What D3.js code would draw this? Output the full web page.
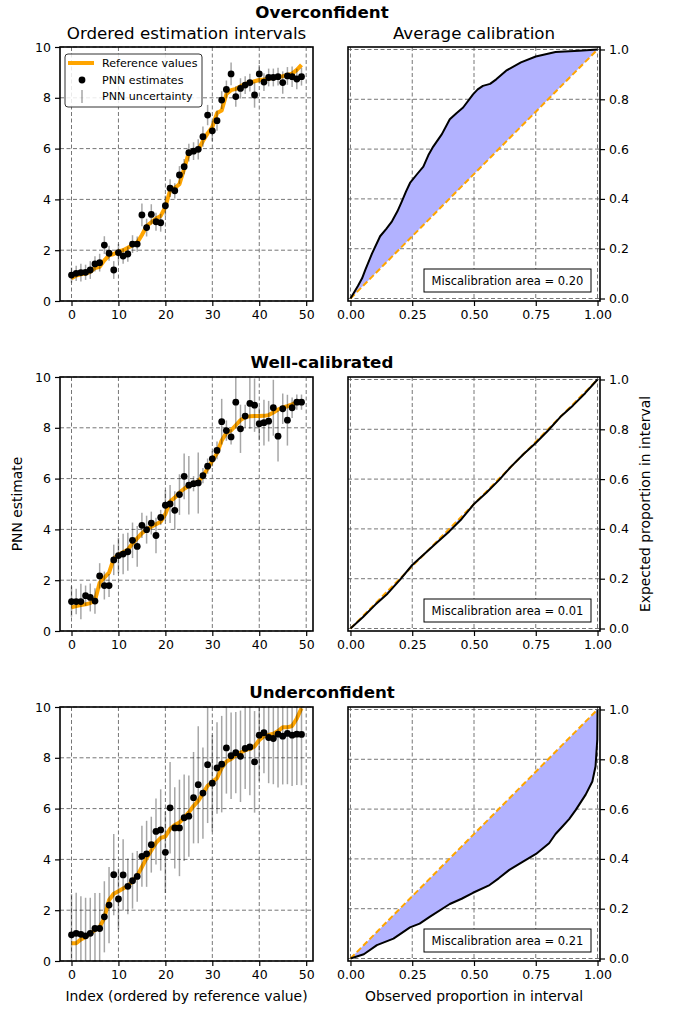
<!DOCTYPE html>
<html>
<head>
<meta charset="utf-8">
<script src="https://cdn.jsdelivr.net/npm/d3@7"></script>
<style>
body { margin: 0; background: #fff; }
svg text { font-family: "DejaVu Sans", sans-serif; fill: #000; }
</style>
</head>
<body>
<svg id="fig" width="676" height="1011"></svg>
<script>
// ---- data -----------------------------------------------------------------
var rowTitles = ['Overconfident', 'Well-calibrated', 'Underconfident'];
var areaLabels = ['0.20', '0.01', '0.21'];

var refOver = [0.9,1.0,1.05,1.08,1.15,1.3,1.35,1.6,1.8,1.85,1.95,2.0,2.1,2.2,2.3,2.6,2.95,3.1,3.25,3.35,
  3.7,4.35,4.45,4.6,5.2,5.85,5.9,5.95,6.3,6.6,6.85,7.4,7.5,8.15,8.3,8.35,8.45,8.55,8.6,8.65,
  8.7,8.72,8.75,8.8,8.82,8.85,8.9,8.95,9.1,9.3];
var estOver = [1.02,1.09,1.12,1.13,1.22,1.46,1.51,2.2,1.88,1.22,1.9,1.77,1.85,2.24,2.24,3.39,2.89,3.41,3.12,3.08,
  3.75,4.44,4.34,4.96,5.29,5.84,5.9,5.97,6.47,7.32,6.7,7.1,7.91,8.33,8.94,8.05,8.37,8.5,8.6,8.11,
  8.94,8.62,8.8,8.8,8.83,8.6,8.86,8.83,8.74,8.83];
var uncOver = [0.3,0.3,0.35,0.3,0.35,0.3,0.35,0.35,0.3,0.35,0.35,0.3,0.3,0.35,0.3,0.45,0.35,0.4,0.35,0.35,
  0.4,0.35,0.3,0.35,0.3,0.35,0.35,0.4,0.4,0.4,0.4,0.4,0.35,0.35,0.45,0.4,0.4,0.35,0.35,0.5,
  0.35,0.35,0.35,0.35,0.35,0.44,0.35,0.4,0.4,0.35];

var refWell = [0.93,0.98,1.02,1.05,1.1,1.2,1.9,2.1,2.3,2.85,3.0,3.1,3.2,3.45,3.65,3.85,4.0,4.1,4.2,4.3,
  4.6,5.1,5.25,5.45,5.6,5.72,5.8,5.88,6.1,6.4,6.7,7.0,7.5,7.8,7.9,8.1,8.3,8.42,8.45,8.46,
  8.46,8.47,8.5,8.6,8.72,8.8,8.85,8.92,9.0,9.05];
var estWell = [1.16,1.16,1.16,1.39,1.32,1.18,2.17,1.79,1.79,2.8,2.97,3.03,3.12,3.57,3.33,4.16,3.99,4.25,3.76,4.47,
  4.95,5.0,4.75,5.37,6.09,5.74,5.8,5.83,6.12,6.49,6.78,7.11,8.24,7.89,7.64,9.01,7.96,8.46,8.96,8.89,
  8.16,8.2,8.26,8.79,7.67,8.75,8.3,8.79,9.01,9.01];
var uncWell = [0.6,0.5,0.7,0.4,0.55,0.5,0.5,0.55,0.45,0.6,0.7,0.8,0.75,0.7,0.8,0.5,0.55,0.45,0.7,0.3,
  0.6,0.75,0.75,0.8,0.9,1.15,0.3,1.2,0.3,0.3,0.3,0.35,0.9,0.4,0.3,1.05,0.95,0.45,1.0,1.05,
  0.65,0.9,0.8,1.1,1.0,0.6,1.0,0.4,0.3,0.3];

var refUnder = [0.7,0.7,0.85,0.95,1.1,1.22,1.33,1.7,2.4,2.65,2.75,2.85,2.95,3.15,3.35,3.7,4.05,4.35,4.65,4.85,
  4.9,5.2,5.35,5.45,5.65,5.85,6.1,6.3,6.6,6.9,7.05,7.2,7.6,7.85,7.95,8.1,8.2,8.3,8.35,8.45,
  8.7,8.85,8.9,8.95,9.05,9.2,9.2,9.25,9.55,9.95];
var estUnder = [1.03,1.09,1.05,0.99,1.09,1.28,1.28,1.74,2.2,3.4,2.44,3.39,2.94,3.16,3.33,4.12,4.22,4.58,5.1,5.16,
  4.28,6.03,5.24,5.24,5.64,5.7,6.43,6.94,6.61,7.73,7.0,7.6,7.75,8.39,8.08,8.2,8.06,8.37,8.43,7.84,
  8.89,8.99,8.8,8.76,8.93,8.85,8.96,8.89,8.93,8.92];
var uncUnder = [1.6,1.6,1.5,1.5,1.4,1.4,1.4,1.4,1.5,1.6,1.2,1.4,1.1,1.1,1.0,1.2,1.3,1.1,1.3,1.6,
  1.6,1.8,1.6,1.9,1.7,1.6,1.8,2.3,1.8,2.3,1.9,1.8,1.9,1.8,1.7,1.6,1.8,1.6,1.9,2.0,
  1.8,1.6,1.8,1.8,2.1,1.9,2.0,2.0,2.0,2.0];

// calibration curves: observed proportion (x) vs expected proportion (y)
var obsOver = [0,0.03,0.047,0.06,0.087,0.12,0.145,0.168,0.19,0.208,0.225,0.241,0.27,0.295,0.315,0.335,0.37,0.402,0.43,0.456,
  0.496,0.515,0.536,0.565,0.59,0.63,0.69,0.75,0.83,0.925,1];
var expOver = [0,0.05,0.081,0.115,0.18,0.25,0.28,0.31,0.35,0.39,0.43,0.464,0.5,0.53,0.575,0.61,0.66,0.72,0.745,0.767,
  0.82,0.84,0.854,0.862,0.88,0.915,0.948,0.972,0.99,0.995,1];
var obsWell = [0,0.05,0.1,0.15,0.2,0.25,0.3,0.35,0.4,0.45,0.5,0.55,0.6,0.65,0.7,0.75,0.8,0.85,0.9,0.95,1];
var expWell = [0,0.045,0.095,0.14,0.195,0.255,0.3,0.345,0.39,0.44,0.5,0.545,0.595,0.65,0.7,0.745,0.795,0.85,0.895,0.945,1];
var obsUnder = [0,0.054,0.107,0.174,0.241,0.28,0.322,0.402,0.45,0.496,0.563,0.6,0.643,0.7,0.751,0.804,0.83,0.858,0.885,0.912,
  0.952,0.979,0.992,0.999,1];
var expUnder = [0,0.017,0.054,0.08,0.125,0.14,0.168,0.219,0.24,0.264,0.295,0.322,0.356,0.39,0.42,0.463,0.5,0.53,0.56,0.597,
  0.658,0.711,0.772,0.879,1];

var idxTicks = [0, 10, 20, 30, 40, 50];
var estTicks = [0, 2, 4, 6, 8, 10];
var obsTicks = [0, 0.25, 0.5, 0.75, 1];
var expTicks = [0, 0.2, 0.4, 0.6, 0.8, 1];

var rows = [
  { ref: refOver, est: estOver, unc: uncOver, obs: obsOver, exp: expOver },
  { ref: refWell, est: estWell, unc: uncWell, obs: obsWell, exp: expWell },
  { ref: refUnder, est: estUnder, unc: uncUnder, obs: obsUnder, exp: expUnder }
];

// ---- layout ---------------------------------------------------------------
var rowTops = [47, 377, 707];
var titleY = [18, 368, 698];
var H = 254;
var L = { x0: 60, x1: 313 };
var R = { x0: 348, x1: 600 };
var ORANGE = '#ffa500';
var GRID = '#666';

var svg = d3.select('#fig');

var xIdx = d3.scaleLinear().domain([-2.45, 51.45]).range([L.x0, L.x1]);
var xObs = d3.scaleLinear().domain([-0.01, 1.01]).range([R.x0, R.x1]);

function grid (g, xs, ys, x, y, xr, yr) {
    g.selectAll('line.gx').data(xs).enter().append('line')
        .attr('x1', x).attr('x2', x).attr('y1', yr[0]).attr('y2', yr[1])
        .attr('stroke', GRID).attr('stroke-width', 0.9).attr('stroke-dasharray', '4,2.5');
    g.selectAll('line.gy').data(ys).enter().append('line')
        .attr('y1', y).attr('y2', y).attr('x1', xr[0]).attr('x2', xr[1])
        .attr('stroke', GRID).attr('stroke-width', 0.9).attr('stroke-dasharray', '4,2.5');
}

function frame (g, x0, x1, y0, y1) {
    g.append('rect').attr('x', x0).attr('y', y0).attr('width', x1 - x0).attr('height', y1 - y0)
        .attr('fill', 'none').attr('stroke', '#000').attr('stroke-width', 1.6);
}

function styleAxis (a) {
    a.select('.domain').remove();
    a.selectAll('.tick line').attr('stroke', '#000').attr('stroke-width', 1.2);
    a.selectAll('.tick text').style('font-size', '12.5px').style('font-family', '"DejaVu Sans", sans-serif');
}

rows.forEach(function (d, r) {
    var top = rowTops[r];
    var bot = top + H;
    var yEst = d3.scaleLinear().domain([0, 10]).range([bot, top]);
    var yExp = d3.scaleLinear().domain([-0.01, 1.01]).range([bot, top]);
    var idx = d3.range(d.est.length);

    // row title
    svg.append('text').attr('x', 322).attr('y', titleY[r])
        .attr('text-anchor', 'middle').style('font-size', '16.7px').style('font-weight', 'bold')
        .text(rowTitles[r]);

    // ---- left: ordered estimation intervals
    var gl = svg.append('g');
    gl.append('clipPath').attr('id', 'clipL' + r).append('rect')
        .attr('x', L.x0).attr('y', top).attr('width', L.x1 - L.x0).attr('height', H);
    grid(gl, idxTicks, estTicks, xIdx, yEst, [L.x0, L.x1], [top, bot]);

    var body = gl.append('g').attr('clip-path', 'url(#clipL' + r + ')');
    body.append('path').datum(idx)
        .attr('d', d3.line().x(function (i) { return xIdx(i); }).y(function (i) { return yEst(d.ref[i]); }))
        .attr('fill', 'none').attr('stroke', ORANGE).attr('stroke-width', 4).attr('stroke-linejoin', 'round');
    body.selectAll('line.err').data(idx).enter().append('line')
        .attr('x1', function (i) { return xIdx(i); }).attr('x2', function (i) { return xIdx(i); })
        .attr('y1', function (i) { return yEst(d.est[i] - d.unc[i]); })
        .attr('y2', function (i) { return yEst(d.est[i] + d.unc[i]); })
        .attr('stroke', '#000').attr('stroke-opacity', 0.35).attr('stroke-width', 1.5);
    body.selectAll('circle').data(idx).enter().append('circle')
        .attr('cx', function (i) { return xIdx(i); }).attr('cy', function (i) { return yEst(d.est[i]); })
        .attr('r', 3.4).attr('fill', '#000');

    frame(gl, L.x0, L.x1, top, bot);
    var ax = gl.append('g').attr('transform', 'translate(0,' + bot + ')')
        .call(d3.axisBottom(xIdx).tickValues(idxTicks).tickSize(5).tickPadding(4));
    styleAxis(ax);
    var ay = gl.append('g').attr('transform', 'translate(' + L.x0 + ',0)')
        .call(d3.axisLeft(yEst).tickValues(estTicks).tickSize(5).tickPadding(4));
    styleAxis(ay);

    // ---- right: average calibration
    var gr = svg.append('g');
    grid(gr, obsTicks, expTicks, xObs, yExp, [R.x0, R.x1], [top, bot]);

    var pts = d.obs.map(function (o, i) { return [o, d.exp[i]]; });
    var poly = pts.concat([[1, 1], [0, 0]]);
    gr.append('path').datum(poly)
        .attr('d', d3.line().x(function (p) { return xObs(p[0]); }).y(function (p) { return yExp(p[1]); }))
        .attr('fill', 'rgb(178,178,255)').attr('stroke', 'none');
    gr.append('line')
        .attr('x1', xObs(0)).attr('y1', yExp(0)).attr('x2', xObs(1)).attr('y2', yExp(1))
        .attr('stroke', ORANGE).attr('stroke-width', 2).attr('stroke-dasharray', '6,3');
    gr.append('path').datum(pts)
        .attr('d', d3.line().x(function (p) { return xObs(p[0]); }).y(function (p) { return yExp(p[1]); }))
        .attr('fill', 'none').attr('stroke', '#000').attr('stroke-width', 2).attr('stroke-linejoin', 'round');

    gr.append('rect').attr('x', 424).attr('y', top + 222).attr('width', 167).attr('height', 23)
        .attr('fill', '#fff').attr('stroke', '#000').attr('stroke-width', 1);
    gr.append('text').attr('x', 507.5).attr('y', top + 237.5).attr('text-anchor', 'middle')
        .style('font-size', '11.5px').text('Miscalibration area = ' + areaLabels[r]);

    frame(gr, R.x0, R.x1, top, bot);
    var bx = gr.append('g').attr('transform', 'translate(0,' + bot + ')')
        .call(d3.axisBottom(xObs).tickValues(obsTicks).tickFormat(d3.format('.2f')).tickSize(5).tickPadding(4));
    styleAxis(bx);
    var by = gr.append('g').attr('transform', 'translate(' + R.x1 + ',0)')
        .call(d3.axisRight(yExp).tickValues(expTicks).tickFormat(d3.format('.1f')).tickSize(5).tickPadding(4));
    styleAxis(by);
});

// column titles
svg.append('text').attr('x', 186.5).attr('y', 39).attr('text-anchor', 'middle')
    .style('font-size', '16.7px').text('Ordered estimation intervals');
svg.append('text').attr('x', 474).attr('y', 39).attr('text-anchor', 'middle')
    .style('font-size', '16.7px').text('Average calibration');

// axis labels
svg.append('text').attr('transform', 'translate(22,504) rotate(-90)').attr('text-anchor', 'middle')
    .style('font-size', '13.9px').text('PNN estimate');
svg.append('text').attr('transform', 'translate(650,504) rotate(-90)').attr('text-anchor', 'middle')
    .style('font-size', '13.9px').text('Expected proportion in interval');
svg.append('text').attr('x', 186.5).attr('y', 1001).attr('text-anchor', 'middle')
    .style('font-size', '13.9px').text('Index (ordered by reference value)');
svg.append('text').attr('x', 474).attr('y', 1001).attr('text-anchor', 'middle')
    .style('font-size', '13.9px').text('Observed proportion in interval');

// legend (top-left panel)
var lg = svg.append('g');
lg.append('rect').attr('x', 65).attr('y', 54).attr('width', 137).attr('height', 53).attr('rx', 3)
    .attr('fill', '#fff').attr('fill-opacity', 0.85).attr('stroke', '#333').attr('stroke-width', 1);
lg.append('line').attr('x1', 68).attr('x2', 94).attr('y1', 63).attr('y2', 63)
    .attr('stroke', ORANGE).attr('stroke-width', 4);
lg.append('circle').attr('cx', 82).attr('cy', 80).attr('r', 3.4).attr('fill', '#000');
lg.append('line').attr('x1', 82).attr('x2', 82).attr('y1', 90).attr('y2', 103)
    .attr('stroke', '#000').attr('stroke-opacity', 0.35).attr('stroke-width', 1.5);
lg.selectAll('text.lt').data(['Reference values', 'PNN estimates', 'PNN uncertainty']).enter().append('text')
    .attr('x', 102).attr('y', function (t, i) { return 67 + i * 16.5; })
    .style('font-size', '11.1px').text(function (t) { return t; });
</script>
</body>
</html>
